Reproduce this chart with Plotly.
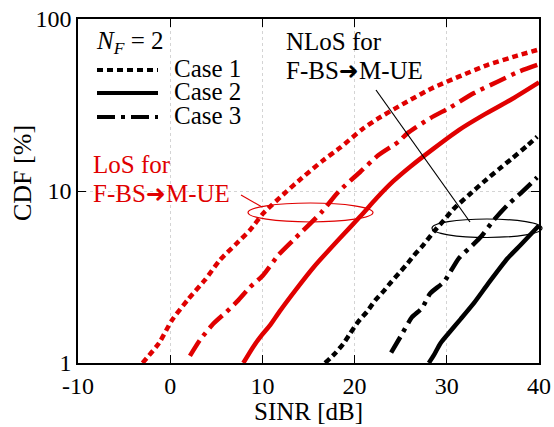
import plotly.graph_objects as go

# SINR [dB] / CDF [%] samples for N_F = 2
# LoS for F-BS -> M-UE (red)
los_case1_x = [-3.0, -1.2, 0.15, 1.96, 3.77, 5.4, 7.14, 8.66, 10.1, 12.47, 14.28, 16.6,
               18.45, 20.8, 22.6, 25.4, 28.4, 31.3, 34.4, 37.65, 40.0]
los_case1_y = [1.0, 1.31, 1.76, 2.35, 3.04, 3.97, 4.92, 5.93, 7.42, 9.77, 11.9, 15.1,
               17.9, 22.8, 26.5, 32.4, 39.6, 46.2, 54.0, 61.2, 66.5]
los_case2_x = [7.93, 9.0, 9.93, 10.84, 11.85, 13.7, 15.6, 18.45, 20.6, 22.4, 24.2, 26.0,
               28.6, 31.3, 34.0, 36.9, 40.0]
los_case2_y = [1.0, 1.24, 1.45, 1.66, 1.99, 2.7, 3.63, 5.35, 7.1, 9.1, 11.4, 13.8,
               17.7, 22.6, 27.7, 33.8, 42.8]
los_case3_x = [2.14, 3.23, 4.67, 6.13, 7.4, 8.66, 10.1, 11.74, 13.55, 16.46, 18.26, 20.6,
               22.6, 24.8, 25.7, 28.2, 30.4, 32.9, 35.5, 37.8, 40.0]
los_case3_y = [1.1, 1.36, 1.69, 1.99, 2.32, 2.76, 3.25, 4.25, 5.31, 7.58, 9.91, 12.9,
               16.2, 19.4, 21.6, 26.5, 30.7, 37.0, 43.2, 49.4, 54.5]

# NLoS for F-BS -> M-UE (black)
nlos_case1_x = [16.8, 17.9, 18.8, 19.53, 20.4, 21.35, 22.25, 23.1, 23.9, 24.8, 25.6, 26.4,
                27.3, 28.6, 29.7, 30.8, 32.4, 34.0, 35.65, 37.1, 38.7, 39.8]
nlos_case1_y = [1.0, 1.14, 1.30, 1.49, 1.74, 1.99, 2.32, 2.6, 2.93, 3.32, 3.71, 4.2,
                4.75, 5.8, 6.78, 7.93, 9.48, 11.3, 13.4, 15.5, 18.3, 20.7]
nlos_case2_x = [28.05, 28.6, 29.3, 30.2, 31.5, 33.0, 34.5, 36.6, 38.0, 40.0]
nlos_case2_y = [1.0, 1.11, 1.3, 1.49, 1.8, 2.25, 2.9, 4.06, 4.85, 6.3]
nlos_case3_x = [23.96, 24.97, 26.2, 27.3, 28.2, 29.7, 31.3, 32.8, 33.7, 35.1, 36.6, 38.0,
                39.0, 39.8]
nlos_case3_y = [1.15, 1.42, 1.84, 2.08, 2.54, 2.97, 4.06, 4.85, 5.42, 6.78, 8.3, 9.7,
                10.9, 12.0]

case_names = ["Case 1", "Case 2", "Case 3"]
x_ticks = [-10, 0, 10, 20, 30, 40]
y_ticks = [1, 10, 100]

RED = "#e00000"
BLACK = "#000000"
DASH = {"Case 1": "6px,4px", "Case 2": "solid", "Case 3": "18px,6px,4px,6px"}
FONT = "Liberation Serif"
ARROW = '<span style="font-family:DejaVu Sans;font-size:24px">➜</span>'

fig = go.Figure()

series = [
    (los_case1_x, los_case1_y, RED, "Case 1"),
    (los_case2_x, los_case2_y, RED, "Case 2"),
    (los_case3_x, los_case3_y, RED, "Case 3"),
    (nlos_case1_x, nlos_case1_y, BLACK, "Case 1"),
    (nlos_case2_x, nlos_case2_y, BLACK, "Case 2"),
    (nlos_case3_x, nlos_case3_y, BLACK, "Case 3"),
]
for xs, ys, color, case in series:
    fig.add_trace(go.Scatter(
        x=xs, y=ys, mode="lines", showlegend=False,
        line=dict(color=color, width=4.5, dash=DASH[case], shape="spline", smoothing=0.6),
    ))

# plot area in pixels (used for paper-coordinate helpers)
L, R, T, B = 78, 539, 19, 363


def px(x):
    return (x - L) / (R - L)


def py(y):
    return (B - y) / (B - T)


shapes = []
annotations = []


def label(x, y, text, color=BLACK, size=25, anchor="left", angle=0):
    annotations.append(dict(xref="paper", yref="paper", x=px(x), y=py(y), text=text,
                            showarrow=False, xanchor=anchor, yanchor="middle",
                            textangle=angle,
                            font=dict(family=FONT, size=size, color=color)))


# hand-drawn legend
legend_rows = [70, 93, 117]
for case, row in zip(case_names, legend_rows):
    shapes.append(dict(type="line", xref="paper", yref="paper",
                       x0=px(97), x1=px(158), y0=py(row), y1=py(row),
                       line=dict(color=BLACK, width=4, dash=DASH[case])))
    label(172, row - 2, case)
label(94, 42, "<i>N</i><sub><i>F</i></sub> = 2")

# NLoS group label, leader line and ellipse
label(284, 41, "NLoS for")
label(284, 71, "F-BS" + ARROW + "M-UE")
shapes.append(dict(type="line", xref="paper", yref="paper",
                   x0=px(376), y0=py(90), x1=px(470), y1=py(222),
                   line=dict(color=BLACK, width=1.2)))
shapes.append(dict(type="circle", xref="paper", yref="paper",
                   x0=px(432), x1=px(542), y0=py(219), y1=py(237.5),
                   line=dict(color=BLACK, width=1.2)))

# LoS group label, leader line and ellipse
label(91, 164, "LoS for", RED)
label(91, 194, "F-BS" + ARROW + "M-UE", RED)
shapes.append(dict(type="line", xref="paper", yref="paper",
                   x0=px(241), y0=py(195), x1=px(262), y1=py(207),
                   line=dict(color=RED, width=1.2)))
shapes.append(dict(type="circle", xref="paper", yref="paper",
                   x0=px(248), x1=px(373), y0=py(203), y1=py(222),
                   line=dict(color=RED, width=1.2)))

# axis titles
label(308, 411, "SINR [dB]", size=25, anchor="center")
label(22, 173, "CDF [%]", size=26, anchor="center", angle=-90)

axis_common = dict(
    showline=True, linecolor=BLACK, linewidth=1.5, mirror="ticks",
    ticks="inside", ticklen=8, tickwidth=1.3, tickcolor=BLACK,
    showgrid=True, gridcolor="#d4d4d4", griddash="3px,3px", gridwidth=1,
    zeroline=False, automargin=False,
    tickfont=dict(family=FONT, size=24, color=BLACK),
)

fig.update_layout(
    width=554, height=427,
    margin=dict(l=L, r=554 - R, t=T, b=427 - B, autoexpand=False),
    paper_bgcolor="white", plot_bgcolor="white",
    shapes=shapes, annotations=annotations,
    xaxis=dict(range=[-10, 40], tickvals=x_ticks, ticktext=[str(v) for v in x_ticks],
               **axis_common),
    yaxis=dict(type="log", range=[0, 2], tickvals=y_ticks,
               ticktext=[str(v) for v in y_ticks], **axis_common),
)

fig.write_html("out.html")
